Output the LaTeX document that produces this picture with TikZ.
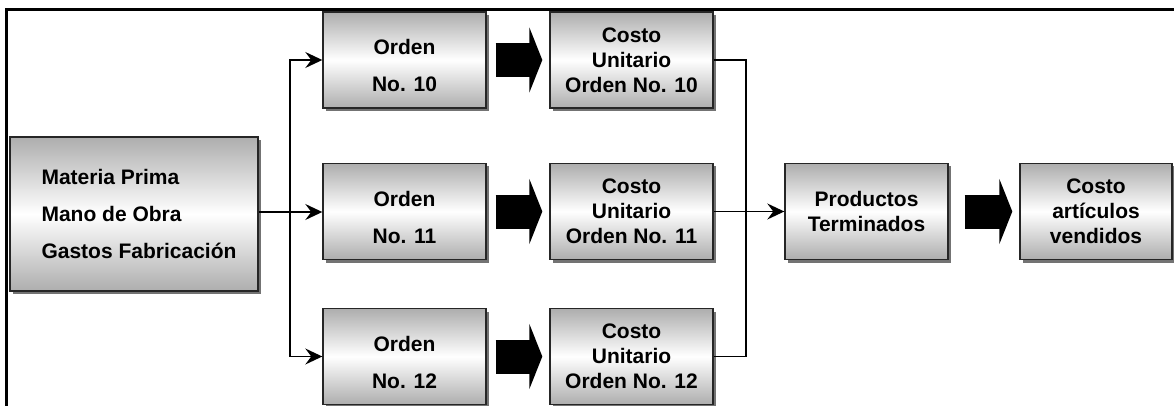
\documentclass[tikz,border=0pt]{standalone}
\usepackage{fontspec}
\setmainfont{Liberation Sans}
\usetikzlibrary{arrows.meta,shadows}

\begin{document}
\begin{tikzpicture}[x=1pt,y=-1pt,>={Stealth[length=17pt,width=16pt,inset=6pt]},
    caja/.style={draw=black!85,line width=1.4pt,top color=black!32,bottom color=black!32,middle color=white,
      drop shadow={shadow xshift=3pt,shadow yshift=-3pt,fill=black!55,opacity=1},
      minimum width=163pt,minimum height=96pt,inner sep=0pt,align=center,
      font=\fontsize{21}{25}\selectfont\bfseries},
    flecha/.style={line width=34pt,-{Triangle[length=13pt,width=65pt]}},
    linea/.style={line width=1.6pt}]
  \useasboundingbox (0,0) rectangle (1174,406);
  \draw[line width=3pt] (6,406) -- (6,9.5) -- (1174,9.5);
  \node[caja,minimum width=248pt,minimum height=154pt,align=left] (mp) at (134,214)
    {\hspace*{10pt}Materia Prima\\[12pt]\hspace*{10pt}Mano de Obra\\[12pt]\hspace*{10pt}Gastos Fabricación};
  \foreach \n/\y in {10/60,11/211.5,12/356.5}{
    \node[caja] (o\n) at (404.5,\y) {\rule{0pt}{27pt}Orden\\[12pt]No. \n};
    \node[caja] (c\n) at (631.5,\y) {Costo\\Unitario\\Orden No. \n};
    \draw[flecha] ([xshift=9pt]o\n.east) -- ([xshift=-7pt]c\n.west);
  }
  \node[caja] (pt) at (866.5,211.5) {Productos\\Terminados};
  \node[caja,minimum width=152pt] (cv) at (1096,211.5) {Costo\\artículos\\vendidos};
  \coordinate (split) at (290,212);
  \coordinate (merge) at (746,211.5);
  \draw[linea,->] (mp.east |- split) -- (o11.west |- split);
  \draw[linea,->] (split) |- (o10.west);
  \draw[linea,->] (split) |- (o12.west);
  \draw[linea] (c10.east) -| (merge) |- (c12.east);
  \draw[linea,->] (c11.east) -- (pt.west);
  \draw[flecha] ([xshift=16pt]pt.east) -- ([xshift=-7pt]cv.west);
\end{tikzpicture}
\end{document}
